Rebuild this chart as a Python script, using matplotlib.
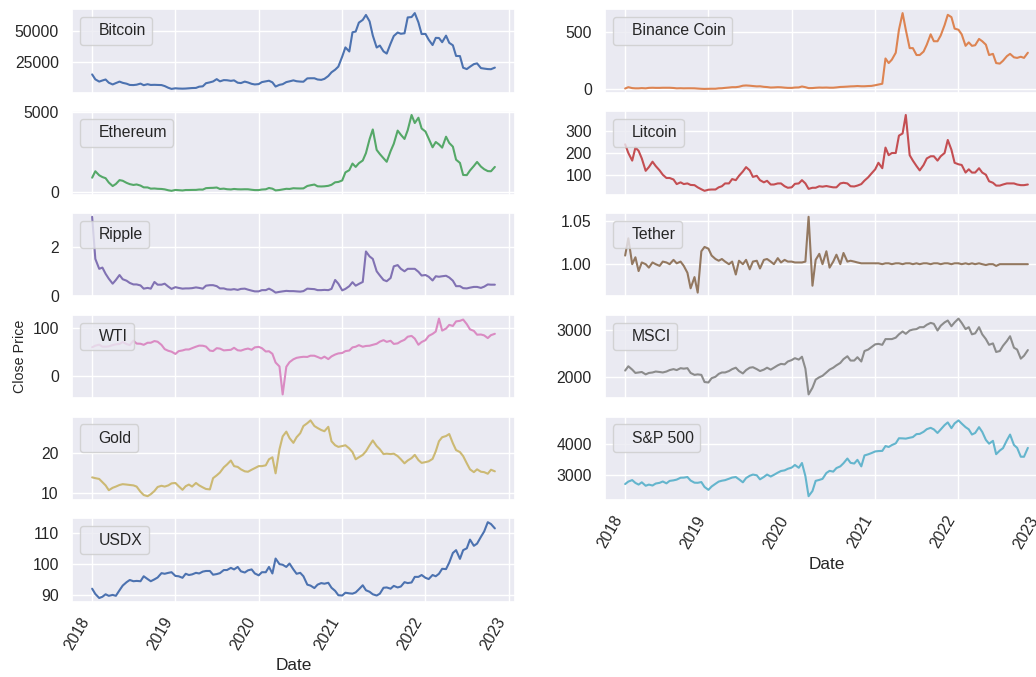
import matplotlib
matplotlib.use("Agg")
import matplotlib.pyplot as plt
import pandas as pd
import seaborn as sns

# semi-monthly sample dates (1st / 15th of each month)
dates = pd.date_range("2018-01-01", "2022-11-01", freq="SMS")

bitcoin = [
    15000, 11000, 9200, 10100, 10900, 8300, 6900, 8000, 9200, 8200, 7500, 6500,
    6400, 6700, 7600, 6300, 7100, 6500, 6600, 6500, 6400, 5600, 4200, 3300,
    3800, 3600, 3500, 3600, 3800, 4000, 4100, 5100, 5400, 7900, 8600, 9300,
    11200, 9400, 10400, 10300, 9800, 10200, 8300, 8000, 9200, 8500, 7400, 6900,
    7200, 8800, 9400, 9900, 8600, 5200, 6600, 7100, 8800, 9400, 10200, 9500,
    9200, 9100, 11800, 11900, 11900, 10900, 10600, 11400, 13700, 16700, 18800, 21300,
    29400, 36800, 33500, 49000, 49600, 56800, 59000, 63000, 57800, 46400, 36700, 38300,
    33600, 31800, 39900, 46000, 48800, 47800, 48200, 61000, 61300, 64500, 57000, 47600,
    47700, 43000, 38700, 44500, 44400, 41000, 46300, 40500, 38500, 29900, 29800, 20400,
    19300, 21200, 23300, 23900, 20100, 19700, 19300, 19200, 20500]

binance = [
    8.5, 20, 12, 10, 10, 12, 10, 14, 15, 14, 14, 15,
    15, 15, 13, 10, 11, 10, 10.5, 10.5, 10, 8, 6, 5,
    6, 6.5, 6.5, 10, 11, 14, 17, 20, 20, 24, 33, 35,
    33, 30, 27, 28, 23, 21, 17, 18, 20, 19, 16, 14,
    13.7, 17, 18, 26, 20, 12, 12.5, 15, 17, 16, 17, 15.5,
    15.5, 18, 22, 23, 25, 27, 28, 30, 28, 28, 30, 31,
    37, 43, 50, 270, 230, 260, 320, 520, 665, 520, 360, 360,
    300, 300, 330, 390, 480, 420, 420, 470, 560, 650, 630, 530,
    520, 480, 380, 410, 380, 385, 440, 420, 390, 300, 310, 230,
    225, 250, 290, 310, 280, 275, 285, 275, 320]

ethereum = [
    900, 1300, 1050, 940, 870, 600, 380, 510, 750, 710, 580, 500,
    450, 480, 410, 300, 295, 220, 230, 210, 200, 175, 118, 85,
    140, 125, 107, 135, 135, 140, 142, 165, 160, 250, 265, 270,
    290, 200, 220, 185, 170, 200, 180, 175, 182, 180, 150, 130,
    130, 165, 180, 260, 218, 110, 135, 170, 210, 200, 245, 235,
    230, 235, 385, 430, 475, 365, 355, 365, 395, 460, 615, 635,
    730, 1230, 1370, 1780, 1570, 1800, 1970, 2430, 3300, 3900, 2630, 2370,
    2110, 1890, 2550, 3010, 3830, 3570, 3310, 3850, 4800, 4300, 4630, 3960,
    3770, 3330, 2790, 3120, 2970, 2770, 3450, 3060, 2830, 2020, 1820, 1070,
    1060, 1350, 1630, 1880, 1590, 1430, 1310, 1300, 1570]

litcoin = [
    240, 200, 165, 225, 210, 175, 118, 135, 160, 140, 120, 100,
    85, 85, 78, 57, 65, 57, 60, 53, 52, 42, 33, 26,
    31, 32, 32, 42, 47, 60, 60, 80, 75, 95, 115, 135,
    120, 90, 95, 75, 65, 72, 55, 55, 60, 60, 47, 40,
    42, 58, 60, 75, 60, 35, 40, 40, 47, 45, 48, 45,
    42, 42, 60, 63, 60, 47, 46, 50, 57, 73, 88, 105,
    125, 155, 130, 225, 190, 200, 200, 280, 290, 375, 190, 165,
    140, 120, 145, 175, 185, 185, 165, 185, 200, 260, 215, 155,
    148, 145, 110, 125, 110, 110, 130, 110, 100, 70, 63, 50,
    50, 55, 60, 60, 60, 55, 52, 52, 55]

ripple = [
    3.2, 1.5, 1.1, 1.15, 0.9, 0.7, 0.5, 0.65, 0.85, 0.68, 0.62, 0.53,
    0.47, 0.47, 0.43, 0.3, 0.33, 0.3, 0.57, 0.46, 0.46, 0.5, 0.38, 0.29,
    0.36, 0.33, 0.3, 0.31, 0.31, 0.32, 0.35, 0.33, 0.3, 0.42, 0.44, 0.44,
    0.40, 0.31, 0.31, 0.27, 0.26, 0.28, 0.25, 0.29, 0.30, 0.26, 0.22, 0.19,
    0.19, 0.24, 0.24, 0.30, 0.23, 0.14, 0.17, 0.19, 0.21, 0.20, 0.20, 0.19,
    0.18, 0.20, 0.30, 0.29, 0.28, 0.24, 0.24, 0.25, 0.24, 0.29, 0.65, 0.50,
    0.23, 0.29, 0.40, 0.56, 0.42, 0.49, 0.57, 1.8, 1.6, 1.5, 1.0, 0.83,
    0.65, 0.6, 0.73, 1.2, 1.25, 1.1, 1.0, 1.1, 1.1, 1.1, 0.98, 0.83,
    0.85, 0.78, 0.63, 0.8, 0.78, 0.8, 0.82, 0.75, 0.62, 0.40, 0.40, 0.32,
    0.31, 0.34, 0.37, 0.37, 0.33, 0.38, 0.47, 0.46, 0.46]

tether = [
    1.010, 1.030, 1.000, 1.008, 0.992, 1.002, 1.000, 0.996, 1.002, 1.000, 0.998, 1.003,
    1.002, 1.000, 1.005, 1.001, 1.003, 0.998, 0.990, 0.972, 0.985, 0.967, 1.015, 1.020,
    1.018, 1.010, 1.006, 1.004, 1.006, 1.003, 1.000, 1.003, 0.988, 1.004, 1.000, 1.005,
    0.994, 1.003, 1.004, 0.995, 1.005, 1.006, 1.003, 1.000, 1.007, 1.002, 1.005, 1.003,
    1.003, 1.002, 1.002, 1.002, 1.003, 1.055, 0.975, 1.005, 1.012, 1.000, 1.015, 0.996,
    1.003, 1.011, 1.000, 1.013, 1.003, 1.004, 1.003, 1.002, 1.001, 1.001, 1.001, 1.001,
    1.001, 1.001, 1.000, 1.001, 1.001, 1.000, 1.001, 1.001, 1.000, 1.001, 1.001, 1.000,
    1.001, 1.000, 1.001, 1.001, 1.000, 1.001, 1.001, 1.000, 1.001, 1.001, 1.000, 1.001,
    1.001, 1.000, 1.001, 1.000, 1.001, 1.000, 1.001, 1.000, 0.999, 1.000, 1.000, 0.998,
    1.000, 1.000, 1.000, 1.000, 1.000, 1.000, 1.000, 1.000, 1.000]

wti = [
    60.4, 63.7, 65.8, 61.7, 61.6, 62.3, 64.9, 66.5, 67.3, 71.3, 67.0, 65.0,
    74.1, 68.1, 67.7, 65.5, 69.8, 69.8, 73.3, 71.9, 65.3, 56.5, 53.0, 51.2,
    46.5, 52.3, 53.8, 55.8, 55.8, 58.5, 61.6, 63.8, 63.6, 61.8, 53.5, 52.5,
    58.5, 57.6, 53.9, 54.5, 55.1, 59.3, 54.1, 53.4, 56.2, 57.7, 55.2, 60.2,
    61.2, 58.5, 51.6, 52.1, 46.8, 28.7, 20.5, -37.6, 19.8, 29.4, 35.4, 38.4,
    39.8, 40.6, 40.3, 42.9, 42.8, 40.2, 37.0, 40.9, 35.8, 41.4, 45.3, 47.6,
    48.5, 52.4, 53.6, 60.1, 61.5, 64.8, 61.5, 63.1, 63.6, 65.5, 67.7, 72.1,
    75.2, 71.6, 73.9, 67.3, 68.5, 72.6, 75.9, 82.3, 84.0, 78.4, 65.6, 71.3,
    75.2, 84.0, 88.2, 93.1, 120.0, 95.0, 99.3, 106.9, 104.7, 114.2, 115.3, 118.0,
    108.4, 97.6, 94.4, 86.5, 86.9, 85.1, 79.5, 85.6, 88.4]

msci = [
    2140, 2230, 2160, 2090, 2100, 2110, 2060, 2090, 2100, 2120, 2110, 2100,
    2120, 2150, 2170, 2150, 2190, 2180, 2190, 2090, 2050, 2060, 2050, 1900,
    1890, 1980, 2010, 2070, 2100, 2100, 2130, 2170, 2200, 2130, 2080, 2150,
    2200, 2210, 2170, 2130, 2160, 2200, 2160, 2200, 2250, 2280, 2270, 2330,
    2360, 2400, 2370, 2430, 2180, 1640, 1780, 1950, 2000, 2030, 2100, 2160,
    2200, 2250, 2300, 2380, 2440, 2350, 2350, 2420, 2330, 2550, 2580, 2630,
    2690, 2700, 2680, 2800, 2800, 2800, 2830, 2900, 2960, 2910, 2980, 3000,
    3010, 3050, 3050, 3100, 3140, 3120, 2980, 3080, 3150, 3190, 3070, 3150,
    3230, 3140, 3010, 3050, 2900, 2920, 3050, 2900, 2800, 2680, 2710, 2530,
    2550, 2660, 2760, 2860, 2620, 2580, 2390, 2450, 2570]

gold = [
    14.0, 13.8, 13.6, 12.8, 12.0, 10.8, 11.4, 11.7, 12.1, 12.3, 12.2, 12.1,
    12.0, 11.7, 10.4, 9.6, 9.3, 9.8, 10.6, 11.6, 11.9, 11.7, 12.0, 12.5,
    12.6, 11.8, 10.9, 11.8, 12.2, 11.7, 12.6, 12.0, 11.5, 11.1, 11.0, 13.8,
    14.5, 15.2, 16.5, 17.2, 18.2, 16.8, 16.6, 16.0, 15.5, 15.4, 15.9, 16.3,
    16.8, 16.8, 17.0, 18.5, 19.0, 15.0, 21.0, 24.2, 25.4, 23.8, 22.6, 24.0,
    25.0, 26.8, 27.5, 28.2, 26.8, 26.3, 25.8, 25.5, 26.6, 23.0, 22.0, 21.6,
    21.8, 22.0, 21.2, 20.3, 18.5, 19.0, 19.6, 20.5, 22.0, 23.2, 21.8, 21.0,
    19.8, 19.9, 19.8, 19.9, 19.3, 18.5, 17.5, 18.2, 18.8, 19.6, 18.3, 17.6,
    17.8, 18.0, 18.6, 20.5, 23.0, 24.0, 24.3, 24.8, 22.5, 20.8, 20.3, 19.3,
    17.5, 16.0, 15.3, 16.0, 15.4, 15.3, 14.9, 15.9, 15.5]

sp500 = [
    2695, 2776, 2824, 2732, 2678, 2752, 2640, 2678, 2648, 2712, 2735, 2779,
    2718, 2798, 2816, 2840, 2901, 2905, 2924, 2809, 2740, 2736, 2760, 2600,
    2507, 2616, 2705, 2775, 2804, 2822, 2868, 2907, 2924, 2850, 2752, 2890,
    2964, 3004, 2980, 2848, 2926, 3005, 2940, 2995, 3067, 3120, 3141, 3192,
    3231, 3316, 3225, 3380, 2954, 2300, 2470, 2800, 2830, 2864, 3055, 3125,
    3100, 3215, 3271, 3373, 3526, 3385, 3363, 3483, 3270, 3626, 3662, 3701,
    3756, 3768, 3774, 3932, 3901, 3963, 4020, 4185, 4181, 4173, 4202, 4223,
    4320, 4327, 4395, 4480, 4524, 4473, 4357, 4471, 4613, 4700, 4513, 4668,
    4766, 4662, 4546, 4475, 4306, 4357, 4546, 4392, 4132, 4008, 4101, 3667,
    3785, 3863, 4118, 4305, 3966, 3873, 3585, 3583, 3872]

usdx = [
    92.1, 90.4, 89.1, 89.5, 90.3, 89.8, 90.1, 89.8, 91.6, 93.1, 94.2, 94.9,
    94.5, 94.6, 94.5, 96.1, 95.2, 94.5, 95.1, 95.7, 97.1, 96.9, 97.2, 97.4,
    96.2, 96.1, 95.6, 96.9, 96.5, 96.7, 97.2, 97.0, 97.6, 97.8, 97.8, 96.6,
    96.8, 97.1, 98.1, 98.1, 98.8, 98.3, 99.1, 97.7, 97.3, 98.0, 98.3, 97.0,
    96.4, 97.4, 97.4, 99.1, 97.0, 101.8, 100.0, 99.8, 99.1, 100.2, 98.3, 96.9,
    97.2, 96.1, 93.4, 93.1, 92.3, 93.4, 93.9, 93.7, 94.0, 92.4, 91.4, 90.0,
    89.9, 90.8, 90.6, 90.5, 90.9, 91.9, 93.2, 91.6, 91.1, 90.3, 89.9, 90.5,
    92.4, 92.5, 92.1, 93.0, 92.5, 92.8, 94.2, 93.9, 94.1, 95.9, 95.9, 96.5,
    95.6, 95.2, 96.5, 96.1, 96.9, 98.5, 98.4, 100.5, 103.6, 104.5, 101.7, 104.5,
    105.1, 107.9, 105.9, 106.6, 108.8, 110.5, 113.5, 112.9, 111.5]

names = ["Bitcoin", "Binance Coin", "Ethereum", "Litcoin", "Ripple", "Tether",
         "WTI", "MSCI", "Gold", "S&P 500", "USDX"]
series = [bitcoin, binance, ethereum, litcoin, ripple, tether,
          wti, msci, gold, sp500, usdx]

sns.set_theme()
plt.rcParams['font.family'] = ['Liberation Sans', 'DejaVu Sans']
plt.rcParams['xtick.labelsize'] = 11.3
plt.rcParams['ytick.labelsize'] = 11.3
plt.rcParams['legend.fontsize'] = 11.3
plt.rcParams['axes.labelsize'] = 12.4

W, H = 1036, 677
fig = plt.figure(figsize=(W / 100, H / 100), dpi=100)
col_left = [72, 605]
ax_w = 443
row_top = [9.3, 111.2, 213.0, 314.8, 416.6, 518.4]
ax_h = 83.4
palette = sns.color_palette("deep", 10)

first = None
for k, (name, vals) in enumerate(zip(names, series)):
    r, c = divmod(k, 2)
    rect = [col_left[c] / W, 1 - (row_top[r] + ax_h) / H, ax_w / W, ax_h / H]
    ax = fig.add_axes(rect, sharex=first) if first is not None else fig.add_axes(rect)
    if first is None:
        first = ax
    ax.plot(dates, vals, color=palette[k % 10], label=name)
    ax.legend(loc="upper left", handlelength=0)
    bottom = (c == 0 and r == 5) or (c == 1 and r == 4)
    if bottom:
        ax.tick_params(axis="x", labelbottom=True)
        for lab in ax.get_xticklabels():
            lab.set_rotation(60)
            lab.set_ha("right")
        ax.set_xlabel("Date")
    else:
        ax.tick_params(axis="x", labelbottom=False)
    if name == "WTI":
        ax.set_ylabel("Close Price", fontsize=10.3)

fig.savefig("out.png", dpi=100)
